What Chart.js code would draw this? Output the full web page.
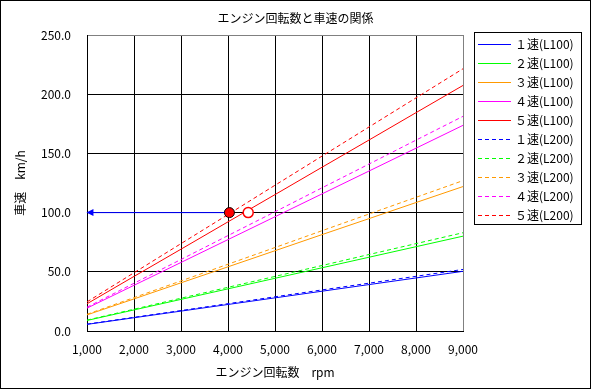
<!DOCTYPE html>
<html>
<head>
<meta charset="utf-8">
<script src="https://cdn.jsdelivr.net/npm/chart.js@4"></script>
<style>
  html, body { margin: 0; padding: 0; background: #fff; }
  #wrap { width: 591px; height: 389px; }
  canvas { display: block; }
</style>
</head>
<body>
<div id="wrap"><canvas id="speedChart"></canvas></div>
<script>
// engine speed (rpm)
const rpm = [1000, 2000, 3000, 4000, 5000, 6000, 7000, 8000, 9000];

// vehicle speed km/h, L100
const gear1L100 = [5.6, 11.2, 16.8, 22.4, 28.0, 33.6, 39.2, 44.8, 50.4];
const gear2L100 = [8.9, 17.8, 26.7, 35.6, 44.5, 53.4, 62.3, 71.2, 80.1];
const gear3L100 = [13.6, 27.1, 40.7, 54.2, 67.8, 81.4, 94.9, 108.5, 122.0];
const gear4L100 = [19.3, 38.6, 57.9, 77.2, 96.5, 115.8, 135.1, 154.4, 173.7];
const gear5L100 = [23.0, 46.1, 69.1, 92.2, 115.2, 138.3, 161.3, 184.4, 207.4];

// vehicle speed km/h, L200
const gear1L200 = [5.8, 11.6, 17.3, 23.1, 28.9, 34.7, 40.4, 46.2, 52.0];
const gear2L200 = [9.2, 18.4, 27.7, 36.9, 46.1, 55.3, 64.6, 73.8, 83.0];
const gear3L200 = [14.1, 28.2, 42.3, 56.4, 70.5, 84.7, 98.8, 112.9, 127.0];
const gear4L200 = [20.1, 40.3, 60.4, 80.6, 100.7, 120.9, 141.0, 161.2, 181.3];
const gear5L200 = [24.6, 49.2, 73.8, 98.4, 123.1, 147.7, 172.3, 196.9, 221.5];

const seriesLabels = ['１速(L100)', '２速(L100)', '３速(L100)', '４速(L100)', '５速(L100)',
                      '１速(L200)', '２速(L200)', '３速(L200)', '４速(L200)', '５速(L200)'];
const seriesColors = ['#0000ff', '#00ff00', '#ff9900', '#ff00ff', '#ff0000'];

// reading marks: operating point and arrow back to the speed axis
const arrowLine = [{ x: 4030, y: 100 }, { x: 1030, y: 100 }];
const pointL200 = [{ x: 4030, y: 100 }];
const pointL100 = [{ x: 4430, y: 100 }];

const chartTitle = 'エンジン回転数と車速の関係';
const FONT = '"Noto Sans CJK JP", "Noto Sans", sans-serif';
const allSeries = [gear1L100, gear2L100, gear3L100, gear4L100, gear5L100,
                   gear1L200, gear2L200, gear3L200, gear4L200, gear5L200];

const datasets = allSeries.map((vals, i) => ({
    label: seriesLabels[i],
    data: vals.map((v, j) => ({ x: rpm[j], y: v })),
    borderColor: seriesColors[i % 5],
    borderWidth: 1,
    borderDash: i >= 5 ? [4, 3] : [],
    pointRadius: 0,
    fill: false,
    tension: 0
}));

datasets.unshift(
    {
        label: 'marker200', data: pointL200, showLine: false,
        pointRadius: 5, pointBackgroundColor: '#ff0000', pointBorderColor: '#000000', pointBorderWidth: 1
    },
    {
        label: 'marker100', data: pointL100, showLine: false,
        pointRadius: 5, pointBackgroundColor: '#ffffff', pointBorderColor: '#ff0000', pointBorderWidth: 1.5
    },
    {
        label: 'arrow', data: arrowLine, borderColor: '#0000ff', borderWidth: 1, pointRadius: 0
    }
);

const extrasPlugin = {
    id: 'extras',
    afterDatasetsDraw(chart) {
        const ctx = chart.ctx;
        // arrow head
        const meta = chart.getDatasetMeta(2);
        const tip = meta.data[1];
        ctx.save();
        ctx.fillStyle = '#0000ff';
        ctx.beginPath();
        ctx.moveTo(tip.x - 2, tip.y);
        ctx.lineTo(tip.x + 5, tip.y - 3.5);
        ctx.lineTo(tip.x + 5, tip.y + 3.5);
        ctx.closePath();
        ctx.fill();
        ctx.restore();
    },
    afterDraw(chart) {
        const ctx = chart.ctx;
        ctx.save();
        // outer frame
        ctx.strokeStyle = '#000';
        ctx.lineWidth = 1;
        ctx.strokeRect(0.5, 0.5, chart.width - 1, chart.height - 1);
        // title, centred on the whole picture
        ctx.font = '12px ' + FONT;
        ctx.fillStyle = '#000';
        ctx.textAlign = 'center';
        ctx.textBaseline = 'middle';
        ctx.fillText(chartTitle, chart.width / 2, 18);
        // legend
        const lx = 474, ly = 32, lw = 107, lh = 192;
        ctx.strokeRect(lx + 0.5, ly + 0.5, lw, lh);
        ctx.textAlign = 'left';
        for (let i = 0; i < 10; i++) {
            const ds = chart.data.datasets[i + 3];
            const y = Math.round(ly + 12 + i * 19) + 0.5;
            ctx.strokeStyle = ds.borderColor;
            ctx.setLineDash(ds.borderDash);
            ctx.beginPath();
            ctx.moveTo(478, y);
            ctx.lineTo(511, y);
            ctx.stroke();
            ctx.setLineDash([]);
            ctx.fillStyle = '#000';
            ctx.fillText(ds.label, 515, y);
        }
        ctx.restore();
    }
};

new Chart(document.getElementById('speedChart'), {
    type: 'line',
    data: { datasets: datasets },
    options: {
        responsive: true,
        maintainAspectRatio: false,
        animation: false,
        layout: { padding: { left: 8, right: 128, top: 35, bottom: 6 } },
        plugins: {
            legend: { display: false },
            tooltip: { enabled: false },
            title: { display: false }
        },
        scales: {
            x: {
                type: 'linear',
                min: 1000,
                max: 9000,
                ticks: {
                    stepSize: 1000,
                    color: '#000',
                    padding: 11,
                    maxRotation: 0,
                    font: { family: FONT, size: 12 },
                    callback: v => v.toLocaleString('en-US')
                },
                grid: {
                    color: c => c.tick && c.tick.value === 9000 ? '#808080' : '#000',
                    drawTicks: false
                },
                border: { color: '#000' },
                title: {
                    display: true,
                    text: 'エンジン回転数　rpm',
                    color: '#000',
                    font: { family: FONT, size: 12 },
                    padding: { top: 4, bottom: 3 }
                },
                afterFit: s => { s.height = 389 - 331 - 6; }
            },
            y: {
                min: 0,
                max: 250,
                ticks: {
                    stepSize: 50,
                    color: '#000',
                    padding: 16,
                    font: { family: FONT, size: 12 },
                    callback: v => v.toFixed(1)
                },
                grid: {
                    color: c => c.tick && c.tick.value === 250 ? '#808080' : '#000',
                    drawTicks: false
                },
                border: { color: '#000' },
                title: {
                    display: true,
                    text: '車速　km/h',
                    color: '#000',
                    font: { family: FONT, size: 12 },
                    padding: { top: 5, bottom: 4 }
                },
                afterFit: s => { s.width = 87 - 8; }
            }
        }
    },
    plugins: [extrasPlugin]
});
</script>
</body>
</html>
